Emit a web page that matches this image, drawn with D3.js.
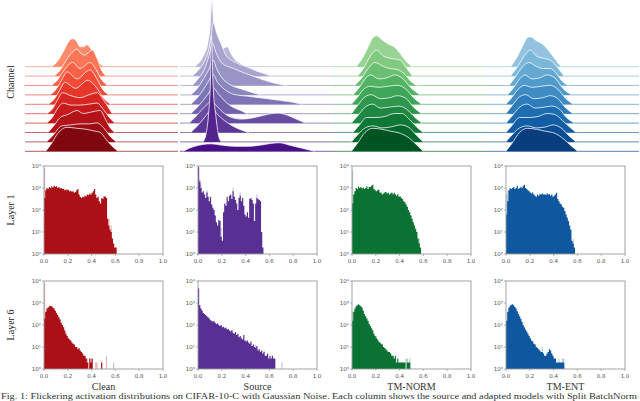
<!DOCTYPE html>
<html><head><meta charset="utf-8">
<script src="https://cdn.jsdelivr.net/npm/d3@7"></script>
<style>body{margin:0;background:#fff}svg{display:block}</style>
</head><body><svg id="c" width="640" height="401"></svg>
<script>
const methods = ["Clean", "Source", "TM-NORM", "TM-ENT"];
const rowLabels = ["Layer 1", "Layer 6"];
const ridgeLabel = "Channel";
const xTicks = [0, 0.2, 0.4, 0.6, 0.8, 1.0];
const yTicks = [1, 10, 100, 1000, 10000];
const yTickLabels = ["10⁰", "10¹", "10²", "10³", "10⁴"];
const binWidth = 0.01;
const caption = "Fig. 1: Flickering activation distributions on CIFAR-10-C with Gaussian Noise. Each column shows the source and adapted models with Split BatchNorm";

// ---- histogram counts per 0.01 bin ----
const cleanL1 = [355,794,1000,891,1122,1000,1175,1047,1259,1122,1202,1000,1122,955,1000,891,933,794,851,794,832,708,759,676,708,603,661,794,891,501,398,355,398,380,447,417,501,479,562,501,603,708,891,501,355,398,251,200,355,316,417,398,355,40,20,13,10,5,3,2,2];
const cleanL1Light = [[0,7943],[54,40],[56,20],[60,2]];
const sourceL1 = [8913,1995,1000,631,708,501,355,631,398,251,398,178,126,100,56,28,20,35,32,6,4,79,200,158,398,251,447,501,316,708,398,282,200,100,355,447,251,355,158,63,50,79,45,316,355,282,200,32,200,355,316,282,251,10,2];
const sourceL1Light = [[1,2512],[2,1585],[7,794],[19,16],[29,1000],[35,631],[49,501]];
const normL1 = [200,501,708,1000,891,1175,1000,1122,955,1047,891,1000,1202,891,1122,1122,1259,1413,891,794,708,794,832,631,603,501,562,631,661,562,603,501,562,631,525,603,501,447,525,398,417,355,316,251,224,178,141,100,79,56,40,28,20,14,10,5,3,2];
const normL1Light = [[0,6310],[56,5]];
const entL1 = [63,251,794,1000,891,1000,1122,891,1000,1259,891,1000,1122,1000,1259,1413,1000,891,794,708,631,562,631,501,447,398,501,447,525,501,562,501,525,479,562,501,525,447,501,398,447,501,603,316,251,200,178,141,126,89,63,45,32,20,13,4,3,2];
const entL1Light = [[0,501],[1,794],[56,5]];

const cleanL6 = [200,398,562,631,708,724,708,631,562,447,355,282,224,178,126,100,79,56,40,32,25,22,20,16,14,13,10,10,8,9,7,6,5,4,4,3,2,0,3,2,3,0,0,0,0,0,0,0,2];
const cleanL6Light = [[0,7943],[36,3],[37,2],[39,3],[43,2],[44,2],[52,4],[58,2]];
const sourceL6 = [4677,794,562,447,355,316,282,251,224,200,166,158,141,151,126,112,120,100,89,100,79,83,71,76,63,66,56,50,60,45,40,48,35,40,28,32,25,22,35,20,18,20,16,14,18,11,13,10,9,11,7,8,6,7,5,6,4,4,5,3,4,3,4,3,3];
const sourceL6Light = [[48,13],[55,7],[70,2]];
const normL6 = [158,398,562,708,794,871,794,708,631,447,316,251,200,158,112,89,71,56,40,32,25,22,18,16,14,13,10,9,8,7,6,6,5,4,4,3,4,2,3,2,2,2,2,2,2,0,2,2,2];
const normL6Light = [[0,398],[20,32],[45,3],[46,3],[48,3]];
const entL6 = [158,398,631,759,832,871,794,661,562,417,316,251,191,141,100,79,63,50,40,32,25,20,18,14,13,10,9,8,7,6,6,5,4,4,5,6,8,7,5,4,3,3,2,2,2,2,2,2,2];
const entL6Light = [[30,10],[44,3],[47,3],[48,3]];

const histMain = [[cleanL1, sourceL1, normL1, entL1], [cleanL6, sourceL6, normL6, entL6]];
const histLight = [[cleanL1Light, sourceL1Light, normL1Light, entL1Light], [cleanL6Light, sourceL6Light, normL6Light, entL6Light]];

// ---- ridge densities: [value, density] knots, 10 channels each ----
const cleanRidges = [
 [[0.17,0],[0.21,0.5],[0.25,1.5],[0.29,2.6],[0.31,2.8],[0.335,2.6],[0.36,2.0],[0.385,2.0],[0.405,2.2],[0.43,1.8],[0.46,1.0],[0.49,0.3],[0.52,0]],
 [[0.19,0],[0.23,0.6],[0.27,1.6],[0.31,2.4],[0.34,2.7],[0.37,2.2],[0.39,2.1],[0.44,2.6],[0.47,1.8],[0.5,0.6],[0.53,0]],
 [[0.17,0],[0.21,0.5],[0.25,1.4],[0.31,2.3],[0.36,1.7],[0.425,2.3],[0.46,1.7],[0.5,0.6],[0.54,0]],
 [[0.16,0],[0.2,0.5],[0.24,1.5],[0.275,2.3],[0.34,1.6],[0.425,2.5],[0.47,1.6],[0.51,0.5],[0.55,0]],
 [[0.15,0],[0.19,0.5],[0.23,1.5],[0.26,2.2],[0.33,1.6],[0.41,2.4],[0.46,1.8],[0.52,0.5],[0.56,0]],
 [[0.14,0],[0.18,0.5],[0.21,1.3],[0.245,2.1],[0.3,1.8],[0.36,1.6],[0.42,1.9],[0.47,2.1],[0.52,1.2],[0.57,0]],
 [[0.14,0],[0.18,0.6],[0.21,1.4],[0.25,2.0],[0.3,1.8],[0.36,1.8],[0.42,1.9],[0.47,2.0],[0.52,1.2],[0.56,0.4],[0.59,0]],
 [[0.15,0],[0.19,0.7],[0.23,1.5],[0.28,1.8],[0.34,2.2],[0.38,1.9],[0.42,2.0],[0.49,2.2],[0.53,1.2],[0.56,0.4],[0.59,0]],
 [[0.14,0],[0.18,0.6],[0.24,1.6],[0.3,1.7],[0.36,1.8],[0.42,1.8],[0.47,1.9],[0.52,1.3],[0.56,0.5],[0.6,0]],
 [[0.135,0],[0.17,0.7],[0.215,1.8],[0.275,2.4],[0.34,2.3],[0.4,2.2],[0.46,2.0],[0.49,1.9],[0.53,1.2],[0.57,0.5],[0.61,0]]
];
const sourceRidges = [
 [[0.09,0],[0.13,0.5],[0.16,1.3],[0.18,2.2],[0.195,3.8],[0.209,6.7],[0.222,3.8],[0.24,2.2],[0.27,1.8],[0.31,2.0],[0.33,1.4],[0.36,0.7],[0.4,0.3],[0.43,0]],
 [[0.08,0],[0.12,0.6],[0.16,1.5],[0.19,2.8],[0.205,4.2],[0.216,5.4],[0.24,4.3],[0.272,3.1],[0.3,2.1],[0.36,1.4],[0.44,0.9],[0.52,0.4],[0.6,0]],
 [[0.08,0],[0.12,0.7],[0.16,1.6],[0.19,3.0],[0.212,4.2],[0.235,3.3],[0.27,2.3],[0.35,1.7],[0.43,1.2],[0.52,0.7],[0.6,0.3],[0.7,0]],
 [[0.07,0],[0.11,0.6],[0.15,1.5],[0.19,2.6],[0.215,3.5],[0.24,2.6],[0.28,1.6],[0.33,1.0],[0.4,0.6],[0.48,0.2],[0.53,0]],
 [[0.07,0],[0.11,0.6],[0.15,1.4],[0.19,2.4],[0.215,3.0],[0.245,2.2],[0.29,1.5],[0.35,1.0],[0.45,0.8],[0.55,0.6],[0.65,0.4],[0.74,0.2],[0.8,0]],
 [[0.07,0],[0.11,0.6],[0.15,1.3],[0.19,2.1],[0.215,2.6],[0.25,2.0],[0.29,1.3],[0.34,0.7],[0.4,0.3],[0.44,0]],
 [[0.06,0],[0.1,0.6],[0.14,1.3],[0.18,1.9],[0.205,2.2],[0.24,1.7],[0.28,1.1],[0.33,0.6],[0.4,0.4],[0.5,0.6],[0.58,0.9],[0.64,1.0],[0.7,0.8],[0.76,0.4],[0.82,0]],
 [[0.07,0],[0.11,0.6],[0.15,1.3],[0.19,2.1],[0.21,2.5],[0.24,1.9],[0.29,1.2],[0.35,0.6],[0.41,0.2],[0.45,0]],
 [[0.15,0],[0.17,0.8],[0.185,2.5],[0.2,6.5],[0.206,10.6],[0.215,6.0],[0.235,2.5],[0.25,0.8],[0.27,0]],
 [[0.02,0],[0.06,0.3],[0.12,0.6],[0.2,0.75],[0.28,0.6],[0.36,0.5],[0.44,0.5],[0.52,0.6],[0.6,0.8],[0.65,0.85],[0.72,0.6],[0.8,0.3],[0.88,0]]
];
const normRidges = [
 [[0.15,0],[0.19,0.8],[0.23,2.0],[0.26,2.9],[0.285,3.1],[0.32,2.7],[0.37,2.2],[0.4,2.0],[0.44,1.3],[0.48,0.5],[0.52,0]],
 [[0.16,0],[0.2,0.8],[0.24,1.9],[0.285,2.6],[0.33,2.0],[0.37,1.8],[0.44,1.6],[0.48,0.8],[0.52,0]],
 [[0.14,0],[0.19,0.8],[0.23,1.7],[0.275,2.3],[0.33,1.9],[0.37,1.7],[0.42,1.6],[0.47,1.1],[0.51,0.4],[0.55,0]],
 [[0.13,0],[0.17,0.7],[0.21,1.6],[0.245,2.0],[0.3,1.6],[0.35,1.7],[0.405,2.0],[0.45,1.7],[0.51,0.7],[0.57,0]],
 [[0.12,0],[0.16,0.7],[0.2,1.5],[0.24,1.8],[0.3,1.7],[0.36,1.8],[0.42,1.9],[0.47,1.6],[0.53,0.6],[0.58,0]],
 [[0.12,0],[0.16,0.8],[0.21,1.7],[0.25,1.9],[0.31,1.5],[0.37,1.6],[0.42,1.8],[0.47,1.6],[0.53,0.6],[0.58,0]],
 [[0.12,0],[0.16,0.7],[0.21,1.6],[0.26,1.9],[0.31,1.5],[0.37,1.6],[0.43,1.7],[0.48,1.4],[0.54,0.5],[0.58,0]],
 [[0.13,0],[0.17,0.7],[0.22,1.5],[0.28,1.5],[0.34,1.6],[0.4,1.9],[0.45,1.9],[0.5,1.3],[0.55,0.5],[0.59,0]],
 [[0.12,0],[0.16,0.7],[0.21,1.4],[0.26,1.6],[0.32,1.4],[0.38,1.5],[0.44,1.7],[0.49,1.5],[0.55,0.6],[0.59,0]],
 [[0.12,0],[0.16,0.8],[0.21,1.9],[0.26,2.3],[0.32,2.2],[0.38,2.0],[0.44,1.8],[0.5,1.3],[0.55,0.6],[0.59,0]]
];
const entRidges = [
 [[0.16,0],[0.2,0.9],[0.24,2.1],[0.27,2.9],[0.29,3.0],[0.33,2.6],[0.375,2.2],[0.41,1.6],[0.45,0.8],[0.49,0]],
 [[0.16,0],[0.2,0.8],[0.245,1.9],[0.29,2.6],[0.33,2.0],[0.37,1.8],[0.42,1.6],[0.47,0.8],[0.51,0]],
 [[0.15,0],[0.19,0.8],[0.235,1.8],[0.28,2.3],[0.33,1.9],[0.37,1.7],[0.42,1.7],[0.46,1.2],[0.5,0.4],[0.54,0]],
 [[0.14,0],[0.18,0.7],[0.22,1.6],[0.255,2.0],[0.3,1.6],[0.35,1.7],[0.4,2.0],[0.45,1.7],[0.5,0.7],[0.56,0]],
 [[0.13,0],[0.17,0.7],[0.21,1.5],[0.25,1.9],[0.3,1.7],[0.36,1.8],[0.42,1.9],[0.47,1.5],[0.52,0.6],[0.57,0]],
 [[0.13,0],[0.17,0.8],[0.22,1.7],[0.26,1.9],[0.31,1.5],[0.37,1.6],[0.42,1.8],[0.47,1.5],[0.52,0.6],[0.57,0]],
 [[0.13,0],[0.17,0.7],[0.22,1.6],[0.27,1.9],[0.32,1.5],[0.38,1.6],[0.43,1.7],[0.48,1.4],[0.53,0.5],[0.58,0]],
 [[0.13,0],[0.17,0.7],[0.22,1.5],[0.28,1.5],[0.34,1.6],[0.4,1.9],[0.45,1.8],[0.5,1.2],[0.55,0.5],[0.59,0]],
 [[0.13,0],[0.17,0.7],[0.22,1.4],[0.27,1.6],[0.33,1.4],[0.39,1.5],[0.44,1.7],[0.49,1.4],[0.55,0.5],[0.59,0]],
 [[0.13,0],[0.17,0.8],[0.22,1.9],[0.27,2.3],[0.33,2.2],[0.39,2.0],[0.45,1.8],[0.51,1.2],[0.56,0.5],[0.6,0]]
];
const ridges = [cleanRidges, sourceRidges, normRidges, entRidges];
const schemes = [d3.interpolateReds, d3.interpolatePurples, d3.interpolateGreens, d3.interpolateBlues];

// ---- layout ----
const svg = d3.select("#c");
const serif = "'Liberation Serif','Times New Roman',serif";
const sans = "'DejaVu Sans',sans-serif";

// ridgelines
const ridgeX0 = [25, 180, 333, 486], ridgeW = 153;
const rowY = d3.scalePoint().domain(d3.range(10)).range([66.7, 151.3]);
const dens = d3.scaleLinear().domain([0, 1]).range([0, 10]);
const shade = d3.scaleLinear().domain([0, 9]).range([0.4, 0.95]);
ridges.forEach((panel, p) => {
  const xs = d3.scaleLinear().domain([0, 1]).range([ridgeX0[p], ridgeX0[p] + ridgeW]);
  const g = svg.append("g");
  panel.forEach((knots, r) => {
    const col = schemes[p](shade(r));
    const base = rowY(r);
    g.append("line").attr("x1", xs(0)).attr("x2", xs(1)).attr("y1", base).attr("y2", base)
      .attr("stroke", col).attr("stroke-width", 1).attr("opacity", 0.65);
    const area = d3.area().x(d => xs(d[0])).y0(base).y1(d => base - dens(d[1])).curve(d3.curveMonotoneX);
    const line = d3.line().x(d => xs(d[0])).y(d => base - dens(d[1])).curve(d3.curveMonotoneX);
    g.append("path").attr("d", area(knots)).attr("fill", col);
    g.append("path").attr("d", line(knots)).attr("fill", "none").attr("stroke", "#fff")
      .attr("stroke-width", 0.9).attr("opacity", 0.85);
  });
});
svg.append("text").attr("transform", "translate(14,82) rotate(-90)").attr("text-anchor", "middle")
  .attr("font-family", serif).attr("font-size", 10).attr("fill", "#222").text(ridgeLabel);

// histograms
const histX0 = [44, 198, 352, 506], histW = 119;
const histY0 = [166, 281], histH = 88;
histMain.forEach((rowArr, ri) => {
  rowArr.forEach((counts, ci) => {
    const xs = d3.scaleLinear().domain([0, 1]).range([histX0[ci], histX0[ci] + histW]);
    const ys = d3.scaleLog().domain([1, 10000]).range([histY0[ri] + histH, histY0[ri]]);
    const col = schemes[ci](0.85);
    const g = svg.append("g");
    const bw = xs(binWidth) - xs(0);
    g.selectAll("rect.l").data(histLight[ri][ci]).join("rect")
      .attr("x", d => xs(d[0] * binWidth)).attr("width", bw)
      .attr("y", d => ys(d[1])).attr("height", d => ys(1) - ys(d[1]))
      .attr("fill", col).attr("opacity", 0.3);
    const pts = counts.map((c, i) => [i * binWidth, Math.max(c, 1)]);
    pts.push([counts.length * binWidth, 1]);
    const step = d3.area().x(d => xs(d[0])).y0(ys(1)).y1(d => ys(d[1])).curve(d3.curveStepAfter);
    g.append("path").attr("d", step(pts)).attr("fill", col);
    g.append("rect").attr("x", histX0[ci]).attr("y", histY0[ri]).attr("width", histW).attr("height", histH)
      .attr("fill", "none").attr("stroke", "#999").attr("stroke-width", 0.9);
    xTicks.forEach(t => {
      g.append("line").attr("x1", xs(t)).attr("x2", xs(t)).attr("y1", histY0[ri] + histH).attr("y2", histY0[ri] + histH + 2)
        .attr("stroke", "#999").attr("stroke-width", 0.7);
      g.append("text").attr("x", xs(t)).attr("y", histY0[ri] + histH + 8.5).attr("text-anchor", "middle")
        .attr("font-family", sans).attr("font-size", 5.5).attr("fill", "#555").text(t.toFixed(1));
    });
    yTicks.forEach((t, k) => {
      g.append("line").attr("x1", histX0[ci] - 2).attr("x2", histX0[ci]).attr("y1", ys(t)).attr("y2", ys(t))
        .attr("stroke", "#999").attr("stroke-width", 0.7);
      g.append("text").attr("x", histX0[ci] - 3).attr("y", ys(t) + 2).attr("text-anchor", "end")
        .attr("font-family", sans).attr("font-size", 5.5).attr("fill", "#555").text(yTickLabels[k]);
    });
  });
  svg.append("text").attr("transform", `translate(14,${histY0[ri] + histH / 2}) rotate(-90)`).attr("text-anchor", "middle")
    .attr("font-family", serif).attr("font-size", 10).attr("fill", "#222").text(rowLabels[ri]);
});
methods.forEach((m, ci) => {
  svg.append("text").attr("x", histX0[ci] + histW / 2).attr("y", 390).attr("text-anchor", "middle")
    .attr("font-family", serif).attr("font-size", 10).attr("font-weight", "normal").attr("fill", "#333").text(m);
});
svg.append("text").attr("x", 1).attr("y", 399.2).attr("font-family", serif).attr("font-size", 7.6)
  .attr("textLength", 636).attr("lengthAdjust", "spacingAndGlyphs")
  .attr("fill", "#333").text(caption);
</script></body></html>
